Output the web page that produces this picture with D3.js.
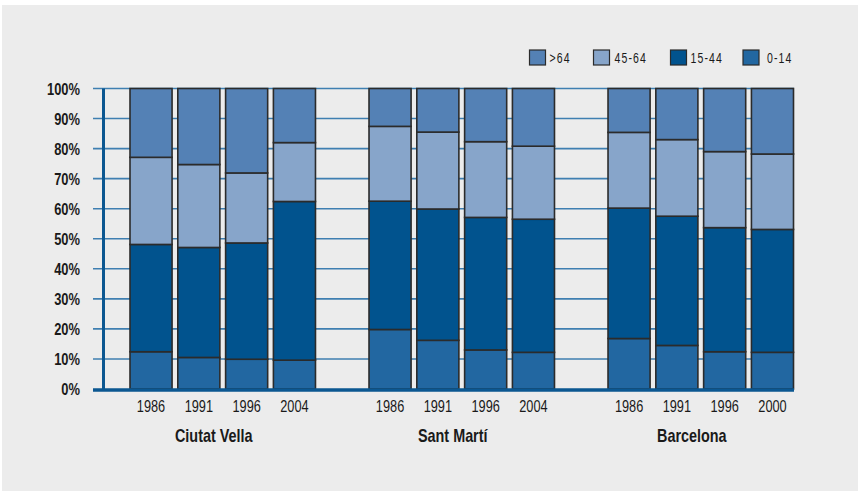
<!DOCTYPE html>
<html>
<head>
<meta charset="utf-8">
<script src="https://cdn.jsdelivr.net/npm/d3@7"></script>
<style>
  body { margin: 0; background: #fff; }
  svg { display: block; }
  text { font-family: "Liberation Sans", Arial, sans-serif; fill: #1a1a1a; }
</style>
</head>
<body>
<svg id="chart" width="858" height="491"></svg>
<script>
// data (percent of population by age band)
const groups = ['Ciutat Vella', 'Sant Martí', 'Barcelona']
const years = [
  ['1986', '1991', '1996', '2004'],
  ['1986', '1991', '1996', '2004'],
  ['1986', '1991', '1996', '2000'],
]
const ageBands = ['0-14', '15-44', '45-64', '>64']
const legendOrder = ['>64', '45-64', '15-44', '0-14']
const age0to14 = [12.4, 10.5, 9.9, 9.6, 19.8, 16.2, 13.0, 12.2, 16.8, 14.5, 12.4, 12.2]
const age15to44 = [35.7, 36.6, 38.7, 52.8, 42.7, 43.7, 44.1, 44.3, 43.4, 43.0, 41.3, 40.9]
const age45to64 = [29.0, 27.6, 23.3, 19.6, 24.9, 25.6, 25.2, 24.3, 25.2, 25.5, 25.3, 25.1]
const age65plus = [22.9, 25.3, 28.1, 18.0, 12.6, 14.5, 17.7, 19.2, 14.6, 17.0, 21.0, 21.8]
const yTicks = [0, 10, 20, 30, 40, 50, 60, 70, 80, 90, 100]

const colors = {
  '>64': '#5481b5',
  '45-64': '#87a5ca',
  '15-44': '#01538e',
  '0-14': '#2267a1',
}

// one row per bar, plus empty slots between groups
const rows = []
const slots = []
groups.forEach((g, gi) => {
  years[gi].forEach((yr) => {
    const i = rows.length
    const key = g + '|' + yr
    rows.push({
      key, group: g, year: yr,
      '0-14': age0to14[i], '15-44': age15to44[i],
      '45-64': age45to64[i], '>64': age65plus[i],
    })
    slots.push(key)
  })
  if (gi < groups.length - 1) slots.push('gap' + gi)
})

const svg = d3.select('#chart')

// the original font is a condensed grotesque, so squeeze the text horizontally
const narrow = (sel, fx, fy, sx) =>
  sel.attr('transform', (d, i) => `translate(${fx(d, i)},${fy(d, i)}) scale(${sx},1)`)

// grey panel
svg.append('rect')
  .attr('x', 2).attr('y', 5)
  .attr('width', 856).attr('height', 486)
  .attr('fill', '#ececec')

const x = d3.scaleBand().domain(slots).range([130, 793.5]).paddingInner(0.12)
const y = d3.scaleLinear().domain([0, 100]).range([389, 88.5])

// gridlines + tick marks
svg.append('g')
  .selectAll('line')
  .data(yTicks.filter((t) => t > 0))
  .join('line')
  .attr('x1', 93).attr('x2', 794)
  .attr('y1', (d) => y(d)).attr('y2', (d) => y(d))
  .attr('stroke', '#3f7fb1')
  .attr('stroke-width', 1.6)

// y labels
svg.append('g')
  .selectAll('text')
  .data(yTicks)
  .join('text')
  .call(narrow, () => 80, (d) => y(d) + 6, 0.76)
  .attr('text-anchor', 'end')
  .style('font-size', '17px')
  .style('font-weight', 'bold')
  .text((d) => d + '%')

// stacked bars
const series = d3.stack().keys(ageBands)(rows)
svg.append('g')
  .selectAll('g')
  .data(series)
  .join('g')
  .attr('fill', (s) => colors[s.key])
  .selectAll('rect')
  .data((s) => s)
  .join('rect')
  .attr('x', (d) => x(d.data.key))
  .attr('width', x.bandwidth())
  .attr('y', (d) => y(d[1]))
  .attr('height', (d) => y(d[0]) - y(d[1]))
  .attr('stroke', '#2b2b2b')
  .attr('stroke-width', 1.6)

// axis lines
svg.append('line')
  .attr('x1', 103.5).attr('x2', 103.5)
  .attr('y1', y(100)).attr('y2', y(0))
  .attr('stroke', '#0b5791').attr('stroke-width', 3)
svg.append('line')
  .attr('x1', 93).attr('x2', 794)
  .attr('y1', y(0) + 1).attr('y2', y(0) + 1)
  .attr('stroke', '#0b5791').attr('stroke-width', 3.5)

// year labels
svg.append('g')
  .selectAll('text')
  .data(rows)
  .join('text')
  .call(narrow, (d) => x(d.key) + x.bandwidth() / 2, () => 412, 0.75)
  .attr('text-anchor', 'middle')
  .style('font-size', '17px')
  .text((d) => d.year)

// group labels, a bit left of the group centre like the original
const groupCentre = (g) => {
  const keys = rows.filter((r) => r.group === g).map((r) => r.key)
  return (x(keys[0]) + x(keys[keys.length - 1]) + x.bandwidth()) / 2
}
svg.append('g')
  .selectAll('text')
  .data(groups)
  .join('text')
  .call(narrow, (g) => groupCentre(g) - 9, () => 442, 0.8)
  .attr('text-anchor', 'middle')
  .style('font-size', '18px')
  .style('font-weight', 'bold')
  .text((g) => g)

// legend
const lx = d3.scaleOrdinal().domain(legendOrder).range([529.5, 593.5, 670.5, 743])
const textOffset = { '>64': 20, '45-64': 21, '15-44': 20, '0-14': 24 }
const legend = svg.append('g')
  .selectAll('g')
  .data(legendOrder)
  .join('g')
  .attr('transform', (d) => `translate(${lx(d)},50)`)
legend.append('rect')
  .attr('width', 16).attr('height', 15)
  .attr('fill', (d) => colors[d])
  .attr('stroke', '#2b2b2b').attr('stroke-width', 1.2)
legend.append('text')
  .call(narrow, (d) => textOffset[d], () => 12.5, 0.75)
  .style('font-size', '14px')
  .style('letter-spacing', '1.5px')
  .text((d) => d)
</script>
</body>
</html>
